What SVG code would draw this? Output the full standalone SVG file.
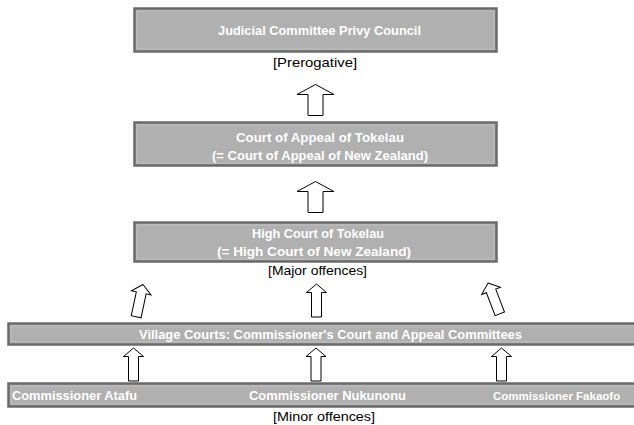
<svg xmlns="http://www.w3.org/2000/svg" width="634" height="425" viewBox="0 0 634 425">
<style>
.box{fill:#b0b0b0;stroke:#6a6a6a;stroke-width:2.5}
.inner{fill:none;stroke:#c4c4c4;stroke-width:0.8}
.bt{font-family:"Liberation Sans",Arial,sans-serif;font-weight:bold;font-size:13px;fill:#ffffff}
.lb{font-family:"Liberation Sans",Arial,sans-serif;font-size:13px;fill:#000000}
.arr{fill:#ffffff;stroke:#000000;stroke-width:1}
</style>
<defs>
<polygon id="bigArrow" points="0,0 18.5,10 7.5,10 7.5,31 -7.5,31 -7.5,10 -18.5,10"/>
<polygon id="smallArrow" points="0,0 10,8.5 5,8.5 5,33 -5,33 -5,8.5 -10,8.5"/>
</defs>
<g id="privy-council">
<rect class="box" x="134.5" y="8.5" width="362" height="43"/>
<rect class="inner" x="137" y="11" width="357" height="38"/>
<text class="bt" x="218" y="35" textLength="203" lengthAdjust="spacingAndGlyphs">Judicial Committee Privy Council</text>
<text class="lb" x="273" y="67" textLength="84" lengthAdjust="spacingAndGlyphs">[Prerogative]</text>
</g>
<g id="court-of-appeal">
<rect class="box" x="134.5" y="122.5" width="362" height="43"/>
<rect class="inner" x="137" y="125" width="357" height="38"/>
<text class="bt" x="236" y="142" textLength="168" lengthAdjust="spacingAndGlyphs">Court of Appeal of Tokelau</text>
<text class="bt" x="212" y="160" textLength="216" lengthAdjust="spacingAndGlyphs">(= Court of Appeal of New Zealand)</text>
</g>
<g id="high-court">
<rect class="box" x="134.5" y="222.5" width="362" height="39"/>
<rect class="inner" x="137" y="225" width="357" height="34"/>
<text class="bt" x="252" y="238" textLength="132" lengthAdjust="spacingAndGlyphs">High Court of Tokelau</text>
<text class="bt" x="217" y="256" textLength="194" lengthAdjust="spacingAndGlyphs">(= High Court of New Zealand)</text>
<text class="lb" x="268" y="275" textLength="99" lengthAdjust="spacingAndGlyphs">[Major offences]</text>
</g>
<g id="village-courts">
<rect class="box" x="8.5" y="323.5" width="640" height="21"/>
<rect class="inner" x="11" y="326" width="635" height="16"/>
<text class="bt" x="139" y="339" textLength="383" lengthAdjust="spacingAndGlyphs">Village Courts: Commissioner's Court and Appeal Committees</text>
</g>
<g id="commissioners">
<rect class="box" x="8.5" y="383.5" width="640" height="23"/>
<rect class="inner" x="11" y="386" width="635" height="18"/>
<text class="bt" x="12" y="400" textLength="125" lengthAdjust="spacingAndGlyphs">Commissioner Atafu</text>
<text class="bt" x="249" y="400" textLength="157" lengthAdjust="spacingAndGlyphs">Commissioner Nukunonu</text>
<text class="bt" x="493" y="400" style="font-size:11.5px">Commissioner Fakaofo</text>
<text class="lb" x="273" y="421" textLength="102" lengthAdjust="spacingAndGlyphs">[Minor offences]</text>
</g>
<g id="connectors">
<use href="#bigArrow" class="arr" x="315.5" y="84.5"/>
<use href="#bigArrow" class="arr" x="315.5" y="181.5"/>
<use href="#smallArrow" class="arr" transform="translate(143,284.5) rotate(12)"/>
<use href="#smallArrow" class="arr" transform="translate(316.5,284)"/>
<use href="#smallArrow" class="arr" transform="translate(488,283) rotate(-21)"/>
<use href="#smallArrow" class="arr" transform="translate(133.5,348)"/>
<use href="#smallArrow" class="arr" transform="translate(316,348)"/>
<use href="#smallArrow" class="arr" transform="translate(501.5,348)"/>
</g>
</svg>
